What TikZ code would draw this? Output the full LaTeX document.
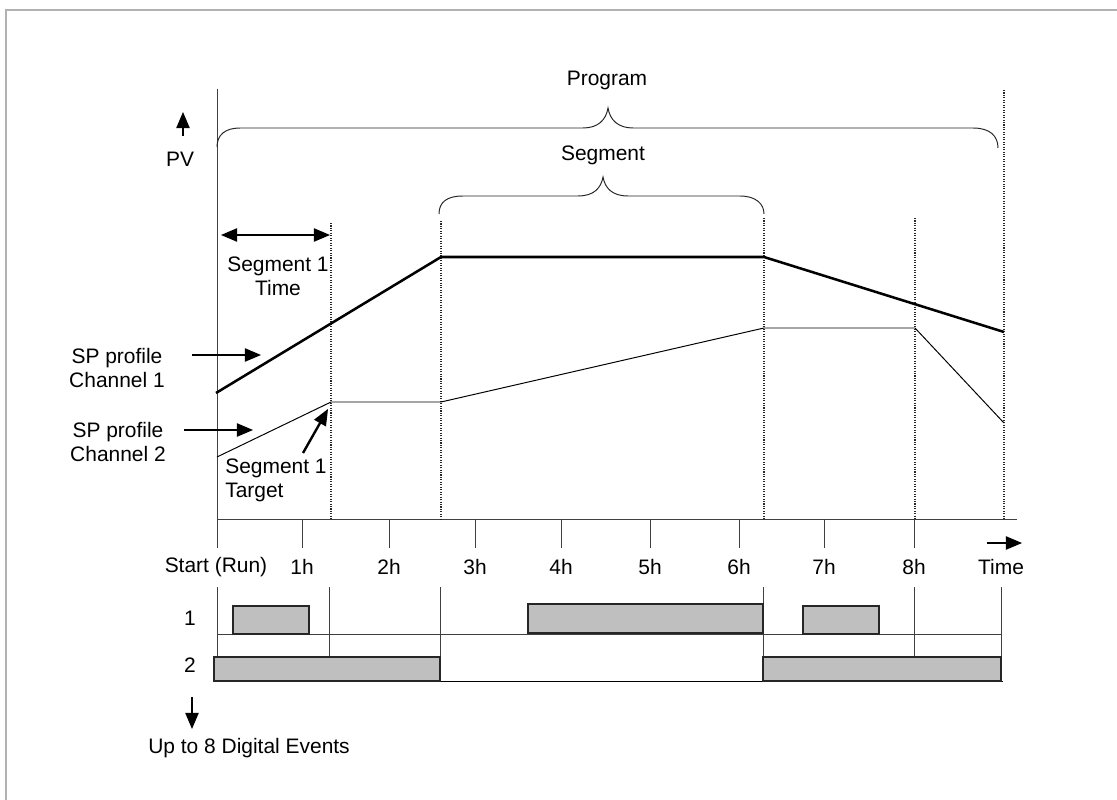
\documentclass[tikz,border=0pt]{standalone}
\usepackage{fontspec}
\setmainfont{Liberation Sans}
\usetikzlibrary{positioning,arrows,calc}
\tikzset{
  chanone/.style={line width=1.8pt, draw=black},
  chantwo/.style={line width=0.7pt, draw=black},
  segline/.style={line width=0.75pt, draw=black!85, densely dotted},
  pointer/.style={line width=1.7pt, draw=black, -triangle 45},
  evbox/.style={draw=black!85, fill=black!25, line width=0.8pt},
  lbl/.style={font=\fontsize{14.9}{17}\selectfont, inner sep=0pt, align=center},
  tick/.style={draw=black!75, line width=0.7pt},
  brace/.style={draw=black!85, line width=0.7pt}
}

\begin{document}
\begin{tikzpicture}[x=0.025cm, y=-0.025cm]
    \useasboundingbox (0,0) rectangle (1117,800);
    \draw[black!30, line width=1.4pt] (6,800) -- (6,10) -- (1117,10);

    % axes
    \coordinate (ytop) at (217,89);
    \coordinate (ybot) at (217,548);
    \coordinate (o) at (217,519);
    \coordinate (xend) at (1017,519);
    \draw[tick] (ytop) -- (ybot);
    \draw[tick] (o) -- (xend);

    \foreach \x/\t in {302/1h,389/2h,475/3h,561/4h,650/5h,739/6h,824/7h,914/8h}{
      \draw[tick] (\x,519) -- (\x,548);
      \node[lbl] (tk\t) at (\x,567) {\t};
    }
    \node[lbl] (start) at (216,567) {Start (Run)};
    \node[lbl] (time) at (1001,567) {Time};
    \coordinate (ta) at (987,543);
    \coordinate (tb) at (1022,543);
    \draw[pointer] (ta) -- (tb);

    % segment boundaries
    \foreach \x/\top in {331/223,441/221,764/218,915/218,1004/90}
      \draw[segline] (\x,\top) -- (\x,519);

    % braces
    \draw[brace] (217,147) .. controls (217,135) and (225,128) .. (240,128) -- (583,128)
      .. controls (598,128) and (606,120) .. (608,108)
      .. controls (610,120) and (618,128) .. (633,128) -- (973,128)
      .. controls (990,128) and (998,136) .. (998,148);
    \node[lbl] (prog) at (607,80) {Program};
    \draw[brace] (439,214) .. controls (439,202) and (447,196) .. (463,196) -- (578,196)
      .. controls (594,196) and (601,188) .. (603,177)
      .. controls (605,188) and (612,196) .. (628,196) -- (740,196)
      .. controls (756,196) and (764,204) .. (764,214);
    \node[lbl] (seg) at (603,155) {Segment};

    % PV
    \coordinate (pva) at (183,136);
    \coordinate (pvb) at (183,112);
    \draw[pointer] (pva) -- (pvb);
    \node[lbl] (pv) at (180,159) {PV};

    % profiles
    \coordinate (c1a) at (216,393);
    \coordinate (c1b) at (441,257);
    \coordinate (c1c) at (764,257);
    \coordinate (c1d) at (1004,332);
    \draw[chanone] (c1a) -- (c1b) -- (c1c) -- (c1d);

    \coordinate (c2a) at (217,457);
    \coordinate (c2b) at (331,402);
    \coordinate (c2c) at (441,402);
    \coordinate (c2d) at (764,328);
    \coordinate (c2e) at (915,328);
    \coordinate (c2f) at (1004,423);
    \draw[chantwo] (c2a) -- (c2b) -- (c2c) -- (c2d) -- (c2e) -- (c2f);

    % labels
    \node[lbl] (sp1) at (117,368) {SP profile\\Channel 1};
    \coordinate (sp1a) at (192,355);
    \coordinate (sp1b) at (261,355);
    \draw[pointer] (sp1a) -- (sp1b);
    \node[lbl] (sp2) at (118,442) {SP profile\\Channel 2};
    \coordinate (sp2a) at (184,430);
    \coordinate (sp2b) at (253,430);
    \draw[pointer] (sp2a) -- (sp2b);

    \coordinate (s1ta) at (221,235);
    \coordinate (s1tb) at (330,235);
    \draw[pointer, triangle 45-triangle 45] (s1ta) -- (s1tb);
    \node[lbl] (s1t) at (278,276) {Segment 1\\Time};

    \node[lbl, align=left, anchor=west] (s1g) at (225,480) {Segment 1\\Target};
    \coordinate (s1ga) at (303,453);
    \coordinate (s1gb) at (328,409);
    \draw[pointer] (s1ga) -- (s1gb);

    % digital events
    \foreach \x/\y in {217/656,329/656,440/681,763/681,914/656,1001/681}
      \draw[tick] (\x,587) -- (\x,\y);
    \draw[tick] (217,634) -- (1002,634);
    \draw[tick, draw=black] (214,681) -- (1003,681);
    \draw[evbox] (233,606) rectangle (309,634);
    \draw[evbox] (528,604) rectangle (763,633);
    \draw[evbox] (803,606) rectangle (879,634);
    \draw[evbox] (214,657) rectangle (440,681);
    \draw[evbox] (763,657) rectangle (1001,681);
    \node[lbl] (ev1) at (190,618) {1};
    \node[lbl] (ev2) at (190,665) {2};

    \coordinate (eva) at (192,697);
    \coordinate (evb) at (192,729);
    \draw[pointer] (eva) -- (evb);
    \node[lbl, anchor=west] (evt) at (148,748) {Up to 8 Digital Events};
\end{tikzpicture}
\end{document}
